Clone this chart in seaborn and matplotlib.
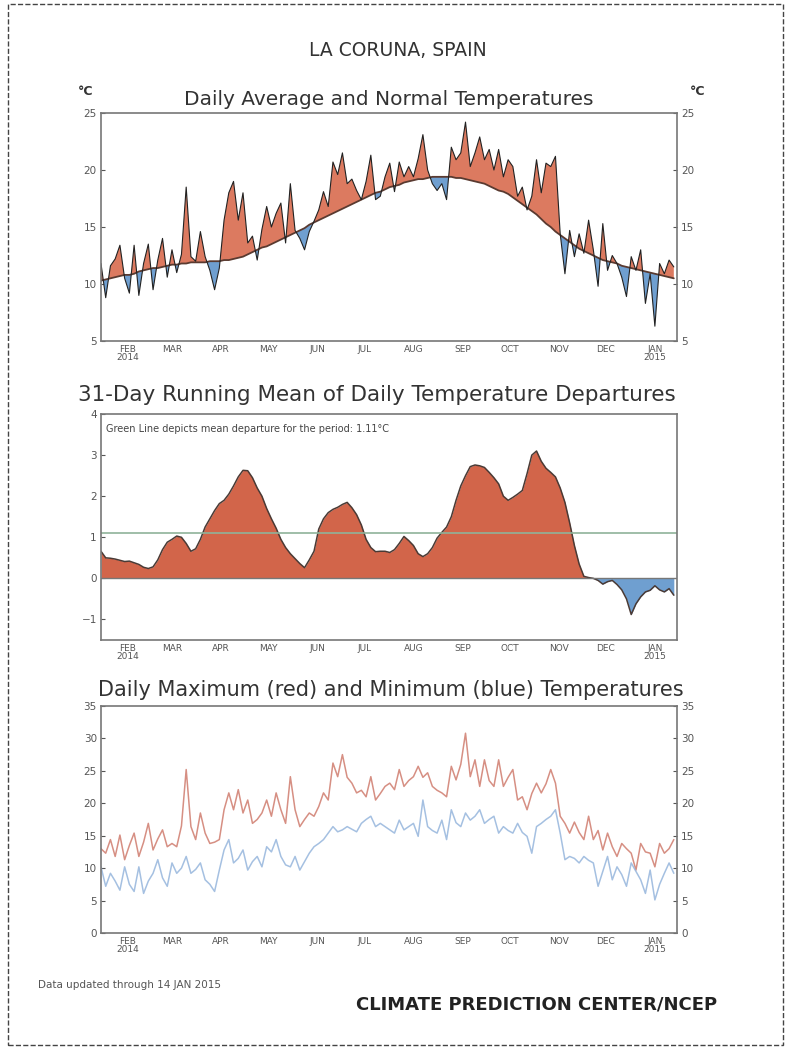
import numpy as np
import pandas as pd
import seaborn as sns
import matplotlib.pyplot as plt
from matplotlib.patches import Rectangle

# every third day, 15 Jan 2014 - 13 Jan 2015
dates = pd.date_range('2014-01-15', periods=122, freq='3D')

avg_temp = [11.8, 8.8, 11.6, 12.2, 13.4, 10.5, 9.2, 13.4, 9.0, 11.8,
            13.5, 9.5, 12.1, 14.0, 10.6, 13.0, 11.0, 12.6, 18.5, 12.4,
            12.0, 14.6, 12.4, 11.2, 9.5, 11.4, 15.6, 18.0, 19.0, 15.6,
            18.0, 13.6, 14.2, 12.1, 14.8, 16.8, 15.0, 16.2, 17.1, 13.6,
            18.8, 14.7, 14.0, 13.0, 14.6, 15.5, 16.5, 18.1, 16.8, 20.7,
            19.6, 21.5, 18.8, 19.2, 18.2, 17.4, 19.0, 21.3, 17.4, 17.7,
            19.4, 20.6, 18.1, 20.7, 19.4, 20.3, 19.4, 21.0, 23.1, 20.0,
            18.8, 18.2, 18.8, 17.4, 22.0, 20.9, 21.5, 24.2, 20.3, 21.5,
            22.9, 20.9, 21.8, 20.0, 21.8, 19.4, 20.9, 20.3, 17.7, 18.5,
            16.5, 17.7, 20.9, 18.0, 20.6, 20.3, 21.2, 14.4, 10.9, 14.7,
            12.4, 14.4, 12.7, 15.6, 13.0, 9.8, 15.3, 11.2, 12.5, 11.8,
            10.6, 8.9, 12.4, 11.2, 13.0, 8.3, 10.9, 6.3, 11.8, 10.9,
            12.1, 11.5]

normal_temp = [10.3, 10.4, 10.5, 10.6, 10.7, 10.8, 10.8, 10.9, 11.1, 11.2,
               11.3, 11.4, 11.4, 11.5, 11.6, 11.7, 11.7, 11.8, 11.8, 11.9,
               11.9, 11.9, 11.9, 12.0, 12.0, 12.0, 12.1, 12.1, 12.2, 12.3,
               12.4, 12.6, 12.8, 13.0, 13.2, 13.3, 13.5, 13.7, 13.9, 14.1,
               14.3, 14.5, 14.7, 14.9, 15.2, 15.4, 15.6, 15.8, 16.0, 16.2,
               16.4, 16.6, 16.8, 17.0, 17.2, 17.4, 17.6, 17.8, 18.0, 18.1,
               18.3, 18.5, 18.6, 18.7, 18.9, 19.0, 19.1, 19.2, 19.2, 19.3,
               19.4, 19.4, 19.4, 19.4, 19.4, 19.3, 19.3, 19.2, 19.1, 19.0,
               18.9, 18.8, 18.6, 18.4, 18.2, 18.1, 17.9, 17.6, 17.3, 17.0,
               16.7, 16.4, 16.1, 15.7, 15.3, 15.0, 14.6, 14.3, 14.0, 13.7,
               13.4, 13.1, 12.9, 12.7, 12.5, 12.3, 12.1, 12.0, 11.9, 11.8,
               11.6, 11.5, 11.4, 11.3, 11.2, 11.1, 11.0, 10.9, 10.8, 10.7,
               10.6, 10.5]

departure_31d = [0.66, 0.50, 0.49, 0.47, 0.44, 0.41, 0.42, 0.38, 0.34, 0.27,
                 0.24, 0.28, 0.45, 0.70, 0.88, 0.95, 1.03, 1.00, 0.85, 0.66,
                 0.72, 0.95, 1.25, 1.45, 1.65, 1.82, 1.90, 2.05, 2.25, 2.47,
                 2.63, 2.62, 2.45, 2.20, 2.00, 1.70, 1.45, 1.22, 0.95, 0.75,
                 0.60, 0.48, 0.36, 0.26, 0.45, 0.66, 1.20, 1.45, 1.60, 1.68,
                 1.73, 1.80, 1.85, 1.72, 1.55, 1.30, 0.95, 0.75, 0.65, 0.66,
                 0.66, 0.63, 0.70, 0.85, 1.02, 0.92, 0.80, 0.60, 0.53, 0.60,
                 0.75, 0.98, 1.12, 1.25, 1.50, 1.90, 2.25, 2.50, 2.72, 2.76,
                 2.74, 2.70, 2.58, 2.45, 2.30, 2.00, 1.90, 1.97, 2.05, 2.14,
                 2.55, 3.00, 3.10, 2.85, 2.68, 2.58, 2.47, 2.20, 1.85, 1.35,
                 0.80, 0.35, 0.05, 0.02, 0.00, -0.05, -0.14, -0.08, -0.05, -0.15,
                 -0.28, -0.50, -0.88, -0.62, -0.45, -0.33, -0.29, -0.18, -0.28, -0.33,
                 -0.25, -0.41]
mean_departure = 1.11

max_temp = [13.0, 12.3, 14.4, 11.8, 15.1, 11.3, 13.5, 15.4, 11.8, 14.0,
            16.9, 12.8, 14.5, 15.9, 13.3, 13.8, 13.3, 16.5, 25.2, 16.4,
            14.4, 18.5, 15.4, 13.8, 14.0, 14.4, 19.0, 21.6, 19.0, 22.1,
            18.5, 20.5, 16.9, 17.5, 18.5, 20.5, 18.0, 21.6, 19.0, 16.9,
            24.1, 19.0, 16.4, 17.5, 18.5, 18.0, 19.5, 21.6, 20.5, 26.2,
            24.1, 27.5, 24.0, 23.1, 21.6, 22.0, 21.0, 24.1, 20.5, 21.5,
            22.6, 23.1, 22.1, 25.2, 22.6, 23.5, 24.1, 25.7, 24.0, 24.7,
            22.6, 22.0, 21.6, 21.0, 25.7, 23.6, 26.0, 30.8, 24.1, 26.7,
            22.6, 26.7, 23.5, 22.6, 26.7, 22.6, 24.0, 25.2, 20.5, 21.0,
            19.0, 21.5, 23.1, 21.6, 23.0, 25.2, 23.1, 18.0, 16.9, 15.4,
            17.1, 15.5, 14.4, 18.0, 14.4, 15.8, 12.8, 15.4, 13.3, 11.8,
            13.8, 13.0, 12.3, 9.7, 13.8, 12.5, 12.3, 10.2, 13.8, 12.3,
            13.0, 14.4]

min_temp = [10.2, 7.2, 9.2, 8.0, 6.6, 10.2, 7.5, 6.4, 10.2, 6.1,
            8.0, 9.2, 11.3, 8.5, 7.2, 10.8, 9.2, 10.0, 11.8, 9.2,
            9.8, 10.8, 8.2, 7.5, 6.4, 9.7, 12.8, 14.4, 10.8, 11.5,
            12.8, 9.7, 11.0, 11.8, 10.2, 13.3, 12.5, 14.4, 11.8, 10.5,
            10.2, 11.8, 9.7, 11.0, 12.3, 13.3, 13.8, 14.4, 15.4, 16.4,
            15.6, 15.9, 16.4, 16.0, 15.6, 16.9, 17.5, 18.0, 16.4, 16.9,
            16.4, 15.9, 15.4, 17.4, 15.9, 16.4, 16.9, 14.9, 20.5, 16.4,
            15.8, 15.4, 17.4, 14.4, 19.0, 17.0, 16.4, 18.5, 17.4, 18.0,
            19.0, 16.9, 17.5, 18.0, 15.4, 16.4, 15.8, 15.4, 16.9, 15.5,
            14.9, 12.3, 16.4, 16.9, 17.5, 18.0, 19.0, 15.4, 11.3, 11.8,
            11.5, 10.8, 11.8, 11.2, 10.8, 7.2, 9.5, 11.8, 8.2, 10.2,
            9.0, 7.2, 10.8, 9.5, 8.2, 6.1, 9.7, 5.1, 7.5, 9.2,
            10.8, 9.2]

month_ticks = pd.date_range('2014-02-01', '2015-01-01', freq='MS')
month_labels = ['FEB\n2014', 'MAR', 'APR', 'MAY', 'JUN', 'JUL', 'AUG',
                'SEP', 'OCT', 'NOV', 'DEC', 'JAN\n2015']

df = pd.DataFrame({'date': dates, 'avg': avg_temp, 'normal': normal_temp,
                   'dep': departure_31d, 'tmax': max_temp, 'tmin': min_temp})

red_fill = '#dc7a60'
blue_fill = '#6f9fd0'

sns.set_theme(style='white')
plt.rcParams['font.family'] = ['DejaVu Sans']

fig = plt.figure(figsize=(7.87, 10.49), dpi=100)
ax1 = fig.add_axes([0.1283, 0.6749, 0.7319, 0.2174])
ax2 = fig.add_axes([0.1283, 0.3899, 0.7319, 0.2154])
ax3 = fig.add_axes([0.1283, 0.1106, 0.7319, 0.2164])


def style_axis(ax, ylim, yticks, right=True):
    ax.set_xlim(pd.Timestamp('2014-01-15'), pd.Timestamp('2015-01-15'))
    ax.set_ylim(*ylim)
    ax.set_yticks(yticks)
    ax.set_xticks(month_ticks)
    ax.set_xticklabels(month_labels, linespacing=0.9)
    ax.set_xlabel('')
    ax.set_ylabel('')
    ax.tick_params(axis='both', direction='in', length=3, width=0.8,
                   colors='#555555', labelsize=7.5, pad=3)
    ax.tick_params(axis='x', labelsize=6.5)
    ax.tick_params(axis='y', left=True, right=right, labelright=right)
    for s in ax.spines.values():
        s.set_color('#777777')
        s.set_linewidth(1.2)


# panel 1: daily average vs normal
ax1.fill_between(df['date'], df['avg'], df['normal'], where=df['avg'] >= df['normal'],
                 interpolate=True, color=red_fill, lw=0)
ax1.fill_between(df['date'], df['avg'], df['normal'], where=df['avg'] < df['normal'],
                 interpolate=True, color=blue_fill, lw=0)
sns.lineplot(data=df, x='date', y='normal', ax=ax1, color='#5a3a30', lw=1.3)
sns.lineplot(data=df, x='date', y='avg', ax=ax1, color='#222222', lw=0.8)
style_axis(ax1, (5, 25), [5, 10, 15, 20, 25])

# panel 2: 31-day running mean departure
ax2.fill_between(df['date'], df['dep'], 0, where=df['dep'] >= 0,
                 interpolate=True, color='#d2654a', lw=0)
ax2.fill_between(df['date'], df['dep'], 0, where=df['dep'] < 0,
                 interpolate=True, color=blue_fill, lw=0)
sns.lineplot(data=df, x='date', y='dep', ax=ax2, color='#4a3a35', lw=1.1)
ax2.axhline(0, color='#777777', lw=1.0)
ax2.axhline(mean_departure, color='#8fb39a', lw=1.2)
ax2.text(0.008, 0.955, 'Green Line depicts mean departure for the period: 1.11°C',
         transform=ax2.transAxes, fontsize=7, color='#444444', va='top')
style_axis(ax2, (-1.5, 4), [-1, 0, 1, 2, 3, 4], right=False)

# panel 3: daily max and min
sns.lineplot(data=df, x='date', y='tmax', ax=ax3, color='#cf7b6d', lw=1.1, alpha=0.85)
sns.lineplot(data=df, x='date', y='tmin', ax=ax3, color='#95b5dc', lw=1.1, alpha=0.85)
style_axis(ax3, (0, 35), [0, 5, 10, 15, 20, 25, 30, 35])

# titles and labels
fig.text(0.505, 0.952, 'LA CORUNA, SPAIN', ha='center', va='center',
         fontsize=13.5, color='#333333')
fig.text(0.494, 0.905, 'Daily Average and Normal Temperatures', ha='center',
         va='center', fontsize=14.5, color='#333333')
fig.text(0.109, 0.913, '°C', ha='center', va='center', fontsize=9, color='#333333',
         fontweight='bold')
fig.text(0.886, 0.913, '°C', ha='center', va='center', fontsize=9, color='#333333',
         fontweight='bold')
fig.text(0.479, 0.623, '31-Day Running Mean of Daily Temperature Departures',
         ha='center', va='center', fontsize=15.5, color='#333333')
fig.text(0.496, 0.342, 'Daily Maximum (red) and Minimum (blue) Temperatures',
         ha='center', va='center', fontsize=15, color='#333333')
fig.text(0.048, 0.061, 'Data updated through 14 JAN 2015', ha='left', va='center',
         fontsize=7.5, color='#555555')
fig.text(0.682, 0.042, 'CLIMATE PREDICTION CENTER/NCEP', ha='center', va='center',
         fontsize=13, fontweight='bold', color='#222222')

fig.patches.append(Rectangle((0.010, 0.004), 0.985, 0.992, transform=fig.transFigure,
                             fill=False, ls='--', lw=1.0, color='#444444'))

fig.savefig('out.png', dpi=100)
